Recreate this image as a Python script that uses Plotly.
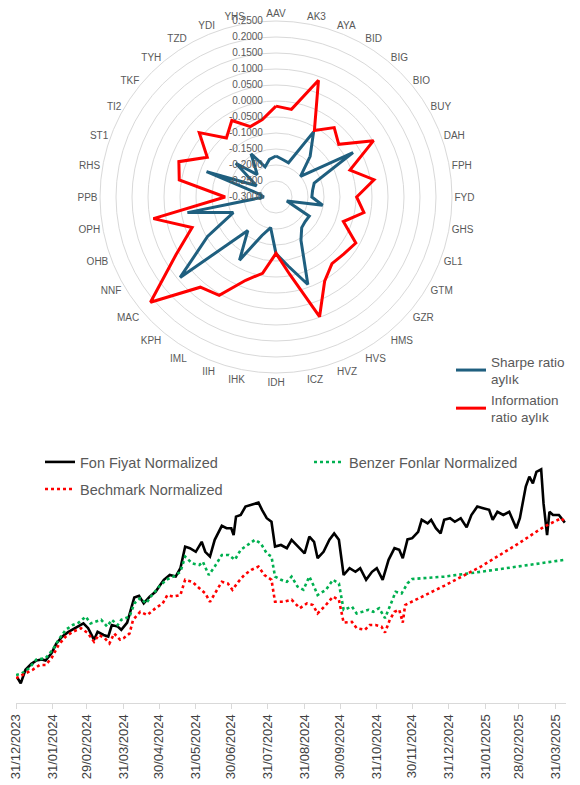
import plotly.graph_objects as go
import pandas as pd

# ---------------- Radar data ----------------
categories = ["AAV", "AK3", "AYA", "BID", "BIG", "BIO", "BUY", "DAH", "FPH", "FYD",
              "GHS", "GL1", "GTM", "GZR", "HMS", "HVS", "HVZ", "ICZ", "IDH", "IHK",
              "IIH", "IML", "KPH", "MAC", "NNF", "OHB", "OPH", "PPB", "RHS", "ST1",
              "TI2", "TKF", "TYH", "TZD", "YDI", "YHS"]

sharpe_ratio = [-0.172, -0.181, -0.186, -0.065, -0.134, -0.200, -0.022, -0.173, -0.184, -0.188,
                -0.152, -0.264, -0.180, -0.181, -0.175, -0.144, -0.009, -0.081, -0.123, -0.203,
                -0.172, -0.072, -0.163, 0.091, -0.053, -0.158, -0.019, -0.262, -0.247, -0.069,
                -0.230, -0.136, -0.209, -0.144, -0.200, -0.181]

information_ratio = [-0.016, -0.022, 0.088, -0.060, -0.017, -0.044, 0.052, -0.054, 0.011, -0.048,
                     -0.021, -0.076, -0.012, -0.023, -0.028, 0.004, 0.098, -0.055, -0.124, -0.058,
                     -0.023, 0.055, 0.068, 0.212, 0.061, -0.021, 0.089, -0.141, 0.007, 0.023,
                     -0.052, 0.013, -0.059, -0.024, -0.066, -0.054]

radial_ticks = [-0.30, -0.25, -0.20, -0.15, -0.10, -0.05, 0.00, 0.05, 0.10, 0.15, 0.20, 0.25]
radial_labels = ["-0.3000", "-0.2500", "-0.2000", "-0.1500", "-0.1000", "-0.0500",
                 "0.0000", "0.0500", "0.1000", "0.1500", "0.2000", "0.2500"]

# ---------------- Line chart data (days after 31/12/2023, normalized values) ----------------
start_date = "2023-12-31"

fon_days = [1, 4, 8, 13, 17, 22, 25, 30, 34, 39, 44, 48, 53, 57, 61, 66, 69, 74, 78, 81,
            86, 89, 94, 97, 100, 104, 108, 113, 118, 121, 125, 130, 135, 139, 143, 147, 152, 157, 160, 164,
            168, 174, 178, 182, 184, 186, 190, 194, 199, 205, 208, 212, 216, 219, 224, 229, 233, 240, 244, 248,
            252, 255, 260, 265, 269, 273, 277, 282, 287, 291, 296, 301, 305, 310, 315, 320, 324, 327, 331, 335,
            340, 343, 348, 351, 355, 359, 362, 367, 371, 376, 381, 385, 390, 395, 400, 403, 407, 412, 417, 423,
            426, 431, 434, 437, 440, 444, 446, 449, 451, 454, 459, 464]
fon_values = [99.9, 98.4, 101.8, 103.3, 104.1, 104.4, 104.1, 105.9, 108.3, 110.1, 111.2, 111.9, 112.6, 113.4, 112.2, 109.3, 111.3, 110.5, 110.1, 113.0,
              112.6, 111.8, 113.6, 116.8, 119.9, 120.3, 118.4, 120.1, 121.3, 122.6, 124.3, 125.5, 125.1, 127.2, 132.6, 132.2, 131.3, 133.8, 131.3, 130.1,
              134.3, 137.8, 137.2, 137.2, 135.5, 140.1, 140.5, 142.6, 143.0, 143.6, 141.8, 139.7, 138.8, 132.6, 133.0, 132.2, 134.3, 132.2, 130.9, 135.1,
              133.8, 129.7, 131.3, 134.3, 135.9, 134.3, 125.5, 127.2, 126.3, 127.2, 124.3, 126.3, 127.2, 124.3, 129.3, 132.2, 131.8, 129.7, 134.4, 134.7,
              136.3, 139.3, 138.4, 139.3, 137.2, 135.9, 139.3, 139.7, 138.8, 139.7, 137.4, 140.5, 142.6, 142.2, 141.8, 139.3, 141.3, 140.5, 141.3, 137.2,
              139.7, 147.6, 150.1, 148.4, 151.3, 151.9, 143.4, 135.5, 141.3, 140.5, 140.5, 138.6]

benzer_days = [0, 5, 11, 17, 25, 31, 36, 42, 48, 53, 59, 63, 67, 72, 77, 81, 86, 89, 96, 100,
               105, 110, 114, 121, 127, 133, 139, 143, 149, 155, 158, 163, 168, 174, 180, 185, 190, 196, 202, 207,
               212, 216, 219, 224, 229, 233, 238, 243, 248, 252, 255, 262, 268, 273, 277, 284, 288, 293, 298, 302,
               307, 312, 316, 321, 326, 331, 335, 362, 393, 425, 464]
benzer_values = [100.5, 100.9, 102.2, 104.3, 104.7, 106.8, 109.3, 111.8, 113.0, 113.6, 115.1, 113.4, 113.8, 114.3, 112.6, 114.3, 113.0, 114.3, 115.1, 118.4,
                 119.7, 118.4, 120.1, 122.6, 124.3, 125.1, 126.3, 130.1, 128.4, 128.0, 128.8, 125.5, 127.6, 130.5, 130.5, 129.3, 131.8, 133.0, 134.3, 133.4,
                 130.9, 130.1, 125.1, 124.3, 123.8, 125.1, 122.6, 121.8, 125.1, 122.6, 120.5, 121.8, 124.3, 123.4, 116.8, 117.6, 115.9, 116.3, 116.8, 116.3,
                 117.2, 114.7, 117.6, 121.3, 120.9, 123.4, 124.5, 125.1, 126.3, 127.6, 129.3]

bench_days = [0, 8, 14, 20, 25, 30, 36, 42, 48, 55, 61, 66, 70, 75, 79, 83, 88, 91, 96, 99,
              105, 111, 118, 124, 128, 133, 139, 143, 149, 155, 160, 164, 169, 174, 179, 183, 188, 193, 199, 205,
              210, 216, 219, 226, 233, 240, 246, 251, 255, 262, 268, 273, 277, 284, 288, 295, 299, 304, 309, 312,
              316, 320, 324, 327, 329, 362, 393, 425, 446, 461, 464]
bench_values = [99.7, 100.9, 101.8, 103.0, 103.0, 104.7, 108.0, 110.1, 111.3, 112.2, 110.9, 108.8, 110.5, 109.7, 108.4, 110.9, 109.3, 109.7, 110.9, 114.3,
                116.3, 115.5, 117.2, 118.4, 120.5, 120.1, 120.5, 124.3, 123.8, 122.2, 120.9, 118.8, 121.3, 123.8, 123.4, 121.8, 123.8, 125.5, 126.8, 127.6,
                125.5, 124.3, 118.8, 118.8, 119.3, 117.2, 118.4, 118.0, 115.9, 118.0, 120.1, 119.3, 113.6, 113.8, 112.2, 111.8, 113.0, 113.0, 112.6, 111.1,
                114.3, 116.3, 116.8, 113.6, 118.0, 122.8, 127.6, 133.4, 137.5, 139.7, 138.8]

x_tick_dates = ["2023-12-31", "2024-01-31", "2024-02-29", "2024-03-31", "2024-04-30", "2024-05-31",
                "2024-06-30", "2024-07-31", "2024-08-31", "2024-09-30", "2024-10-31", "2024-11-30",
                "2024-12-31", "2025-01-31", "2025-02-28", "2025-03-31"]
x_tick_labels = ["31/12/2023", "31/01/2024", "29/02/2024", "31/03/2024", "30/04/2024", "31/05/2024",
                 "30/06/2024", "31/07/2024", "31/08/2024", "30/09/2024", "31/10/2024", "30/11/2024",
                 "31/12/2024", "31/01/2025", "28/02/2025", "31/03/2025"]


def to_dates(days):
    return list(pd.Timestamp(start_date) + pd.to_timedelta(days, unit="D"))


W, H = 580, 785
FONT = "Liberation Sans, Arial, sans-serif"
GREY_TXT = "#595959"
GRID = "#d9d9d9"
NBSP = "\u00a0"

fig = go.Figure()

# Radar traces (closed polygons)
fig.add_trace(go.Scatterpolar(
    r=sharpe_ratio + sharpe_ratio[:1], theta=categories + categories[:1],
    mode="lines", name="Sharpe ratio<br>aylık",
    line=dict(color="#1f5f7f", width=3), legend="legend"))
fig.add_trace(go.Scatterpolar(
    r=information_ratio + information_ratio[:1], theta=categories + categories[:1],
    mode="lines", name="Information<br>ratio aylık",
    line=dict(color="#ff0000", width=3), legend="legend"))

# Line chart traces
fig.add_trace(go.Scatter(
    x=to_dates(fon_days), y=fon_values, mode="lines", name="Fon Fiyat Normalized",
    line=dict(color="#000000", width=2.6), legend="legend2", xaxis="x", yaxis="y"))
fig.add_trace(go.Scatter(
    x=to_dates(benzer_days), y=benzer_values, mode="lines", name="Benzer Fonlar Normalized",
    line=dict(color="#00b050", width=2.6, dash="dot"), legend="legend2", xaxis="x", yaxis="y"))
fig.add_trace(go.Scatter(
    x=to_dates(bench_days), y=bench_values, mode="lines", name="Bechmark Normalized",
    line=dict(color="#ff0000", width=2.6, dash="dot"), legend="legend3", xaxis="x", yaxis="y"))

cx, cy, rad = 276, 197, 176
fig.update_layout(
    width=W, height=H,
    margin=dict(l=0, r=0, t=0, b=0, autoexpand=False),
    paper_bgcolor="white", plot_bgcolor="white",
    font=dict(family=FONT, color=GREY_TXT),
    polar=dict(
        domain=dict(x=[(cx - rad) / W, (cx + rad) / W], y=[1 - (cy + rad) / H, 1 - (cy - rad) / H]),
        bgcolor="white",
        radialaxis=dict(range=[-0.30, 0.25], tickvals=radial_ticks,
                        ticktext=[t + NBSP * 4 for t in radial_labels],
                        angle=90, tickangle=90, side="counterclockwise", showline=False, ticks="",
                        gridcolor=GRID, gridwidth=1, tickfont=dict(size=10, color=GREY_TXT)),
        angularaxis=dict(direction="clockwise", rotation=90, showgrid=False,
                         showline=True, linecolor=GRID, linewidth=1, ticks="",
                         tickfont=dict(size=10, color=GREY_TXT)),
        gridshape="circular",
    ),
    xaxis=dict(domain=[16 / W, 566 / W], type="date", range=["2023-12-31", "2025-04-09"],
               tickvals=x_tick_dates, ticktext=x_tick_labels, tickangle=-90, automargin=False,
               showline=True, linecolor=GRID, linewidth=1, ticks="outside", ticklen=5,
               tickcolor=GRID, showgrid=False, zeroline=False,
               tickfont=dict(size=13, color="#404040"), anchor="y"),
    yaxis=dict(domain=[1 - 703 / H, 1 - 455 / H], range=[93.5, 155.5], visible=False,
               showgrid=False, zeroline=False, automargin=False),
    legend=dict(x=451 / W, y=1 - 346 / H, xanchor="left", yanchor="top",
                font=dict(size=13.5, color=GREY_TXT), bgcolor="rgba(0,0,0,0)"),
    legend2=dict(x=40 / W, y=1 - 446 / H, xanchor="left", yanchor="top",
                 orientation="h", entrywidth=224, entrywidthmode="pixels",
                 font=dict(size=14.5, color=GREY_TXT), bgcolor="rgba(0,0,0,0)"),
    legend3=dict(x=40 / W, y=1 - 473 / H, xanchor="left", yanchor="top",
                 orientation="h",
                 font=dict(size=14.5, color=GREY_TXT), bgcolor="rgba(0,0,0,0)"),
    showlegend=True,
)

fig.write_html("out.html", config={"displayModeBar": False},
               post_script="document.body.style.margin='0px';")
